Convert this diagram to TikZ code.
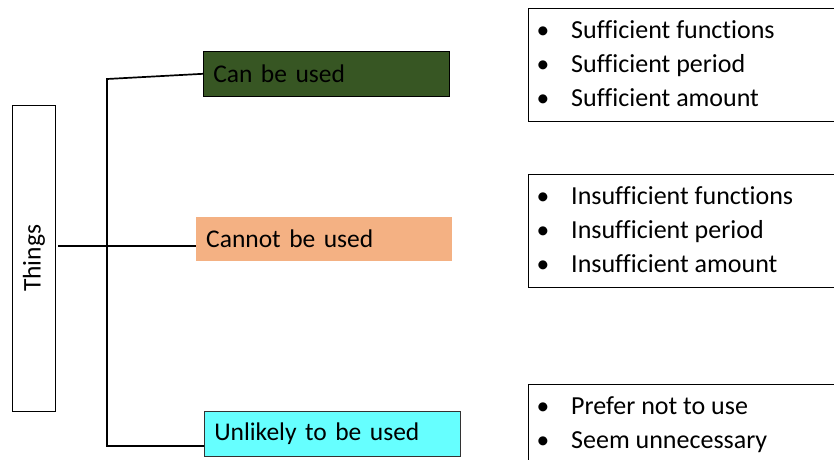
\documentclass[tikz,border=0pt]{standalone}
\usepackage{fontspec}
\setmainfont[Ligatures=NoCommon]{Carlito}
\definecolor{dkgreen}{HTML}{375623}
\definecolor{peach}{HTML}{F4B183}
\definecolor{cyanbox}{HTML}{66FFFF}
\begin{document}
\begin{tikzpicture}[x=1pt,y=-1pt,
  lbl/.style={font=\fontsize{25.5}{30}\selectfont},
  itemfont/.style={font=\fontsize{26}{30}\selectfont},
  catbox/.style={lbl,rectangle,minimum height=45pt,text width=235pt,inner xsep=10pt,align=left,anchor=north west},
  listbox/.style={draw=black,line width=0.8pt,rectangle,anchor=north west,minimum width=320pt},
  bul/.style={lbl,anchor=base,inner sep=0pt},
  item/.style={itemfont,anchor=base west,inner sep=0pt},
  conn/.style={line width=1.7pt,black}]
\clip (0,0) rectangle (834,459);
\fill[white] (0,0) rectangle (834,459);
% Things box
\node[draw=black,line width=0.8pt,rectangle,minimum width=43pt,minimum height=306pt,anchor=north west,inner sep=0pt] (things) at (12,105) {};
\node[lbl,rotate=90] (thingslbl) at (things.center) {Things};
% category boxes
\node[catbox,fill=dkgreen,draw=black,line width=0.6pt,minimum height=45pt,text width=226pt] (can) at (203,51) {Can be used};
\node[catbox,fill=peach,minimum height=44pt,text width=236pt] (cannot) at (196,217) {Cannot be used};
\node[catbox,fill=cyanbox,draw=black!80,line width=0.6pt,minimum height=45pt,text width=236pt] (unlikely) at (204,411) {Unlikely to be used};
% connectors
\coordinate (st) at (107,79);
\coordinate (sb) at (107,446);
\coordinate (mid) at (58,246);
\draw[conn] (can.west) -- (st) -- (sb) -- (unlikely.west |- sb);
\draw[conn] (mid) -- (cannot.west |- mid);
% list boxes
\node[listbox,minimum height=113pt] (l1) at (528,8) {};
\node[listbox,minimum height=113pt] (l2) at (528,174) {};
\node[listbox,minimum height=100pt] (l3) at (528,384) {};
% items
\foreach \y/\t [count=\i] in {38.5/Sufficient functions,72.5/Sufficient period,106.5/Sufficient amount,204.5/Insufficient functions,238.5/Insufficient period,272.5/Insufficient amount,414.5/Prefer not to use,448.5/Seem unnecessary}{
  \node[bul] (b\i) at (543,\y) {\textbullet};
  \node[item] (t\i) at (571,\y) {\t};
}
\end{tikzpicture}
\end{document}
